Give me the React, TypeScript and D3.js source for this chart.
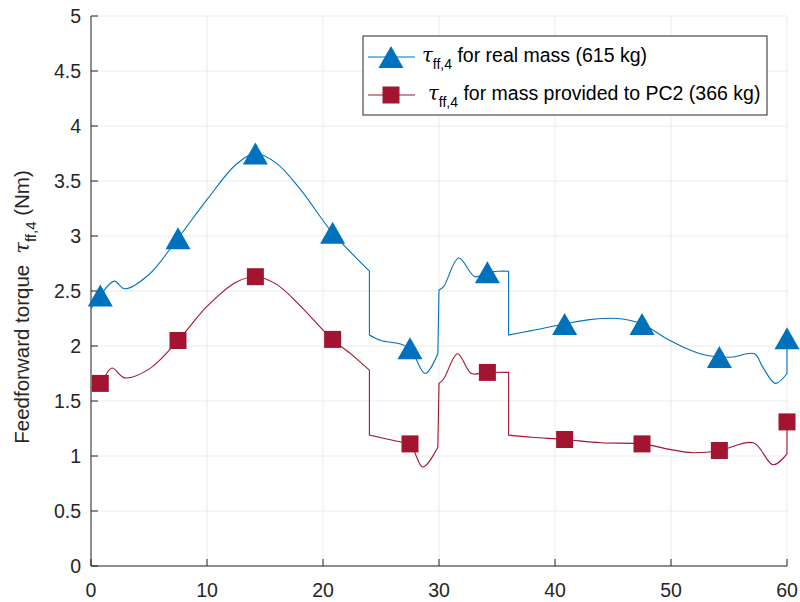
import React from "react";
import * as d3 from "d3";

type Pt = [number, number];

// Blue series (real mass) — continuous segments separated by jumps
const blueSegments: Pt[][] = [
  [[0, 2.34], [0.8, 2.46], [2.0, 2.59], [2.9, 2.52], [5, 2.65], [7.5, 2.98], [10, 3.33], [12.5, 3.65], [14.2, 3.75], [16, 3.66], [18, 3.43], [20.8, 3.03], [22.5, 2.84], [24, 2.68]],
  [[24, 2.1], [25, 2.05], [26.6, 2.02], [27.5, 1.98], [28.8, 1.75], [29.9, 1.93]],
  [[30, 2.51], [30.4, 2.54], [31.7, 2.8], [33.1, 2.63], [34.2, 2.67], [35.2, 2.68], [36, 2.68]],
  [[36, 2.1], [38, 2.14], [40.8, 2.2], [43, 2.24], [45.4, 2.25], [47.5, 2.2], [49.9, 2.05], [52.5, 1.93], [54.2, 1.9], [55.3, 1.9], [57.2, 1.93], [57.9, 1.81], [59, 1.66], [60, 1.75]],
  [[60, 2.07]],
];

// Red series (mass provided to PC2)
const redSegments: Pt[][] = [
  [[0, 1.62], [0.8, 1.66], [1.8, 1.8], [2.9, 1.71], [5, 1.79], [7.5, 2.05], [10, 2.36], [12.5, 2.58], [14.2, 2.63], [16, 2.56], [18, 2.37], [20.8, 2.06], [22.5, 1.92], [24, 1.78]],
  [[24, 1.19], [26.6, 1.13], [27.5, 1.11], [28.6, 0.9], [29.9, 1.08]],
  [[30, 1.66], [30.4, 1.7], [31.6, 1.93], [32.8, 1.75], [34.1, 1.76], [36, 1.76]],
  [[36, 1.19], [38, 1.17], [40.8, 1.15], [44, 1.12], [47.5, 1.11], [49.9, 1.06], [51.9, 1.03], [54.2, 1.05], [57.1, 1.12], [58.8, 0.92], [60, 1.02]],
  [[60, 1.31]],
];

const markerX = [0.8, 7.5, 14.17, 20.83, 27.5, 34.17, 40.83, 47.5, 54.17, 60];
const blueMarkerY = [2.46, 2.98, 3.75, 3.03, 1.98, 2.67, 2.2, 2.2, 1.9, 2.07];
const redMarkerY = [1.66, 2.05, 2.63, 2.06, 1.11, 1.76, 1.15, 1.11, 1.05, 1.31];

const xTicks = [0, 10, 20, 30, 40, 50, 60];
const yTicks = [0, 0.5, 1, 1.5, 2, 2.5, 3, 3.5, 4, 4.5, 5];

const legendLabels = ["for real mass (615 kg)", "for mass provided to PC2 (366 kg)"];

const BLUE = "#0072BD";
const RED = "#A2142F";
const AXIS = "#262626";
const GRID = "#ebebeb";
const FONT = "'Liberation Sans', Arial, Helvetica, sans-serif";

const W = 800;
const H = 602;
const M = { left: 91, right: 787, top: 16, bottom: 566 };

export default function App() {
  const x = d3.scaleLinear().domain([0, 60]).range([M.left, M.right]);
  const y = d3.scaleLinear().domain([0, 5]).range([M.bottom, M.top]);

  const lineGen = d3
    .line<Pt>()
    .x((d) => x(d[0]))
    .y((d) => y(d[1]))
    .curve(d3.curveCatmullRom.alpha(0.5));

  const buildPath = (segs: Pt[][]) =>
    segs
      .map((s, i) => {
        if (s.length === 1) return `${i === 0 ? "M" : "L"}${x(s[0][0])},${y(s[0][1])}`;
        const p = lineGen(s) || "";
        return i === 0 ? p : "L" + p.slice(1);
      })
      .join("");

  const tri = (cx: number, cy: number, w = 25, h = 22) =>
    `M${cx},${cy - h / 2}L${cx + w / 2},${cy + h / 2}L${cx - w / 2},${cy + h / 2}Z`;
  const sq = 17;

  const legX = 363,
    legY = 36,
    legW = 404,
    legH = 79;

  return (
    <svg
      width={W}
      height={H}
      style={{ position: "absolute", left: 0, top: 0, display: "block", background: "#fff" }}
      fontFamily={FONT}
    >
      <rect x={0} y={0} width={W} height={H} fill="#fff" />
      {/* grid */}
      {xTicks.map((t) => (
        <line key={"gx" + t} x1={x(t)} x2={x(t)} y1={M.top} y2={M.bottom} stroke={GRID} strokeWidth={1} />
      ))}
      {yTicks.map((t) => (
        <line key={"gy" + t} x1={M.left} x2={M.right} y1={y(t)} y2={y(t)} stroke={GRID} strokeWidth={1} />
      ))}

      {/* axes */}
      <line x1={M.left} x2={M.left} y1={M.top} y2={M.bottom} stroke={AXIS} strokeWidth={1} />
      <line x1={M.left} x2={M.right} y1={M.bottom} y2={M.bottom} stroke={AXIS} strokeWidth={1} />
      {xTicks.map((t) => (
        <g key={"xt" + t}>
          <line x1={x(t)} x2={x(t)} y1={M.bottom} y2={M.bottom - 7} stroke={AXIS} strokeWidth={1} />
          <text x={x(t)} y={M.bottom + 31} textAnchor="middle" fontSize={19.5} fill={AXIS}>
            {t}
          </text>
        </g>
      ))}
      {yTicks.map((t) => (
        <g key={"yt" + t}>
          <line x1={M.left} x2={M.left + 7} y1={y(t)} y2={y(t)} stroke={AXIS} strokeWidth={1} />
          <text x={M.left - 10} y={y(t) + 7} textAnchor="end" fontSize={19.5} fill={AXIS}>
            {t}
          </text>
        </g>
      ))}

      {/* y label */}
      <text
        transform={`translate(29,307) rotate(-90)`}
        textAnchor="middle"
        fontSize={20.5}
        fill={AXIS}
        style={{ whiteSpace: "pre" }}
      >
        <tspan>{"Feedforward torque  "}</tspan>
        <tspan fontStyle="italic" fontFamily="'DejaVu Serif', serif">τ</tspan>
        <tspan fontSize={15} dy={7}>ff,4</tspan>
        <tspan dy={-7}>{" (Nm)"}</tspan>
      </text>

      {/* lines */}
      <path d={buildPath(blueSegments)} fill="none" stroke={BLUE} strokeWidth={1.1} />
      <path d={buildPath(redSegments)} fill="none" stroke={RED} strokeWidth={1.1} />

      {/* markers */}
      {markerX.map((mx, i) => (
        <path key={"bm" + i} d={tri(x(mx), y(blueMarkerY[i]))} fill={BLUE} />
      ))}
      {markerX.map((mx, i) => (
        <rect key={"rm" + i} x={x(mx) - sq / 2} y={y(redMarkerY[i]) - sq / 2} width={sq} height={sq} fill={RED} />
      ))}

      {/* legend */}
      <rect x={legX} y={legY} width={legW} height={legH} fill="#fff" stroke={AXIS} strokeWidth={1} />
      {[0, 1].map((i) => {
        const cy = i === 0 ? 57 : 95;
        const col = i === 0 ? BLUE : RED;
        const tx = i === 0 ? 422 : 428;
        return (
          <g key={"lg" + i}>
            <line x1={368} x2={415} y1={cy} y2={cy} stroke={col} strokeWidth={1.1} />
            {i === 0 ? (
              <path d={tri(391, cy)} fill={BLUE} />
            ) : (
              <rect x={391 - sq / 2} y={cy - sq / 2} width={sq} height={sq} fill={RED} />
            )}
            <text x={tx} y={cy + 5} fontSize={19.5} fill="#000" style={{ whiteSpace: "pre" }}>
              <tspan fontStyle="italic" fontFamily="'DejaVu Serif', serif">τ</tspan>
              <tspan fontSize={14} dy={7}>ff,4</tspan>
              <tspan dy={-7}>{" " + legendLabels[i]}</tspan>
            </text>
          </g>
        );
      })}
    </svg>
  );
}
